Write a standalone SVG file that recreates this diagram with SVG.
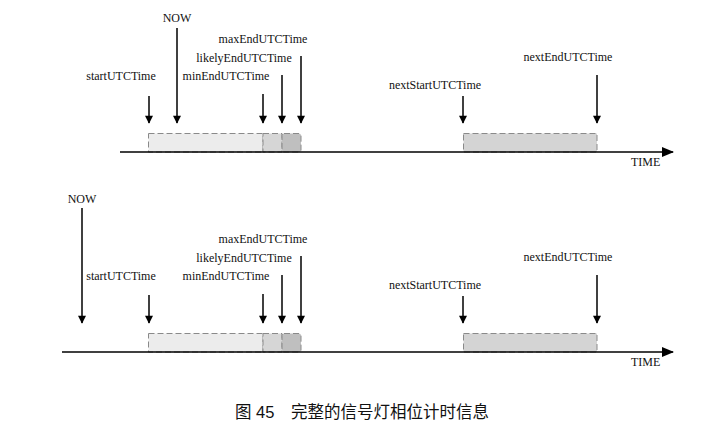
<svg xmlns="http://www.w3.org/2000/svg" width="714" height="429" viewBox="0 0 714 429">
<defs>
<marker id="ah" viewBox="0 0 10 10" refX="9" refY="5" markerWidth="9" markerHeight="8" markerUnits="userSpaceOnUse" orient="auto">
<path d="M0,0 L10,5 L0,10 Z" fill="#000"/>
</marker>
<marker id="ax" viewBox="0 0 12 10" refX="11" refY="5" markerWidth="13" markerHeight="10" markerUnits="userSpaceOnUse" orient="auto">
<path d="M0,0 L12,5 L0,10 Z" fill="#000"/>
</marker>
</defs>
<style>
.lbl{font-family:"Liberation Serif","Times New Roman",serif;font-size:12px;fill:#111;text-anchor:middle}
.time{font-family:"Liberation Serif","Times New Roman",serif;font-size:12px;fill:#111}
.arr{stroke:#000;stroke-width:1.5;fill:none;marker-end:url(#ah)}
.axis{stroke:#000;stroke-width:1.3;fill:none;marker-end:url(#ax)}
.seg{stroke:#8a8a8a;stroke-width:1;stroke-dasharray:6 3}
.s1{fill:#ececec}
.s2{fill:#d6d6d6}
.s3{fill:#bfbfbf}
.sn{fill:#d4d4d4}
.cap{font-family:"Liberation Sans","Noto Sans CJK SC",sans-serif;font-size:16.5px;fill:#111}
</style>
<rect width="714" height="429" fill="#fff"/>

<g id="top">
<g id="top-bars">
<rect class="seg s1" x="148.5" y="133.5" width="114.5" height="18.5"/>
<rect class="seg s2" x="263" y="133.5" width="19" height="18.5"/>
<rect class="seg s3" x="282" y="133.5" width="19" height="18.5" rx="2"/>
<rect class="seg sn" x="463.5" y="133.5" width="133.5" height="18.5"/>
</g>
<g id="top-axis"><line class="axis" x1="120" y1="152" x2="673" y2="152"/><text class="time" x="631" y="166">TIME</text></g>
<g id="top-labels">
<text class="lbl" x="177" y="22">NOW</text>
<text class="lbl" x="121" y="80">startUTCTime</text>
<text class="lbl" x="226" y="80">minEndUTCTime</text>
<text class="lbl" x="244" y="62">likelyEndUTCTime</text>
<text class="lbl" x="263" y="43">maxEndUTCTime</text>
<text class="lbl" x="435" y="89">nextStartUTCTime</text>
<text class="lbl" x="568" y="61">nextEndUTCTime</text>
</g>
<g id="top-connectors">
<line class="arr" x1="149" y1="96" x2="149" y2="123"/>
<line class="arr" x1="177" y1="28" x2="177" y2="123"/>
<line class="arr" x1="263" y1="94" x2="263" y2="123"/>
<line class="arr" x1="282" y1="75" x2="282" y2="123"/>
<line class="arr" x1="301" y1="56" x2="301" y2="123"/>
<line class="arr" x1="463" y1="96" x2="463" y2="123"/>
<line class="arr" x1="597" y1="75" x2="597" y2="123"/>
</g>
</g>

<g id="bottom">
<g id="bottom-bars">
<rect class="seg s1" x="148.5" y="333.5" width="114.5" height="18.5"/>
<rect class="seg s2" x="263" y="333.5" width="19" height="18.5"/>
<rect class="seg s3" x="282" y="333.5" width="19" height="18.5" rx="2"/>
<rect class="seg sn" x="463.5" y="333.5" width="133.5" height="18.5"/>
</g>
<g id="bottom-axis"><line class="axis" x1="62" y1="352" x2="673" y2="352"/><text class="time" x="631" y="366">TIME</text></g>
<g id="bottom-labels">
<text class="lbl" x="82" y="203">NOW</text>
<text class="lbl" x="121" y="280">startUTCTime</text>
<text class="lbl" x="226" y="280">minEndUTCTime</text>
<text class="lbl" x="244" y="262">likelyEndUTCTime</text>
<text class="lbl" x="263" y="243">maxEndUTCTime</text>
<text class="lbl" x="435" y="289">nextStartUTCTime</text>
<text class="lbl" x="568" y="261">nextEndUTCTime</text>
</g>
<g id="bottom-connectors">
<line class="arr" x1="82" y1="208" x2="82" y2="323"/>
<line class="arr" x1="149" y1="295" x2="149" y2="323"/>
<line class="arr" x1="263" y1="294" x2="263" y2="323"/>
<line class="arr" x1="282" y1="275" x2="282" y2="323"/>
<line class="arr" x1="301" y1="256" x2="301" y2="323"/>
<line class="arr" x1="463" y1="296" x2="463" y2="323"/>
<line class="arr" x1="597" y1="275" x2="597" y2="323"/>
</g>
</g>

<text class="cap" x="235" y="418">图 45　完整的信号灯相位计时信息</text>
</svg>
